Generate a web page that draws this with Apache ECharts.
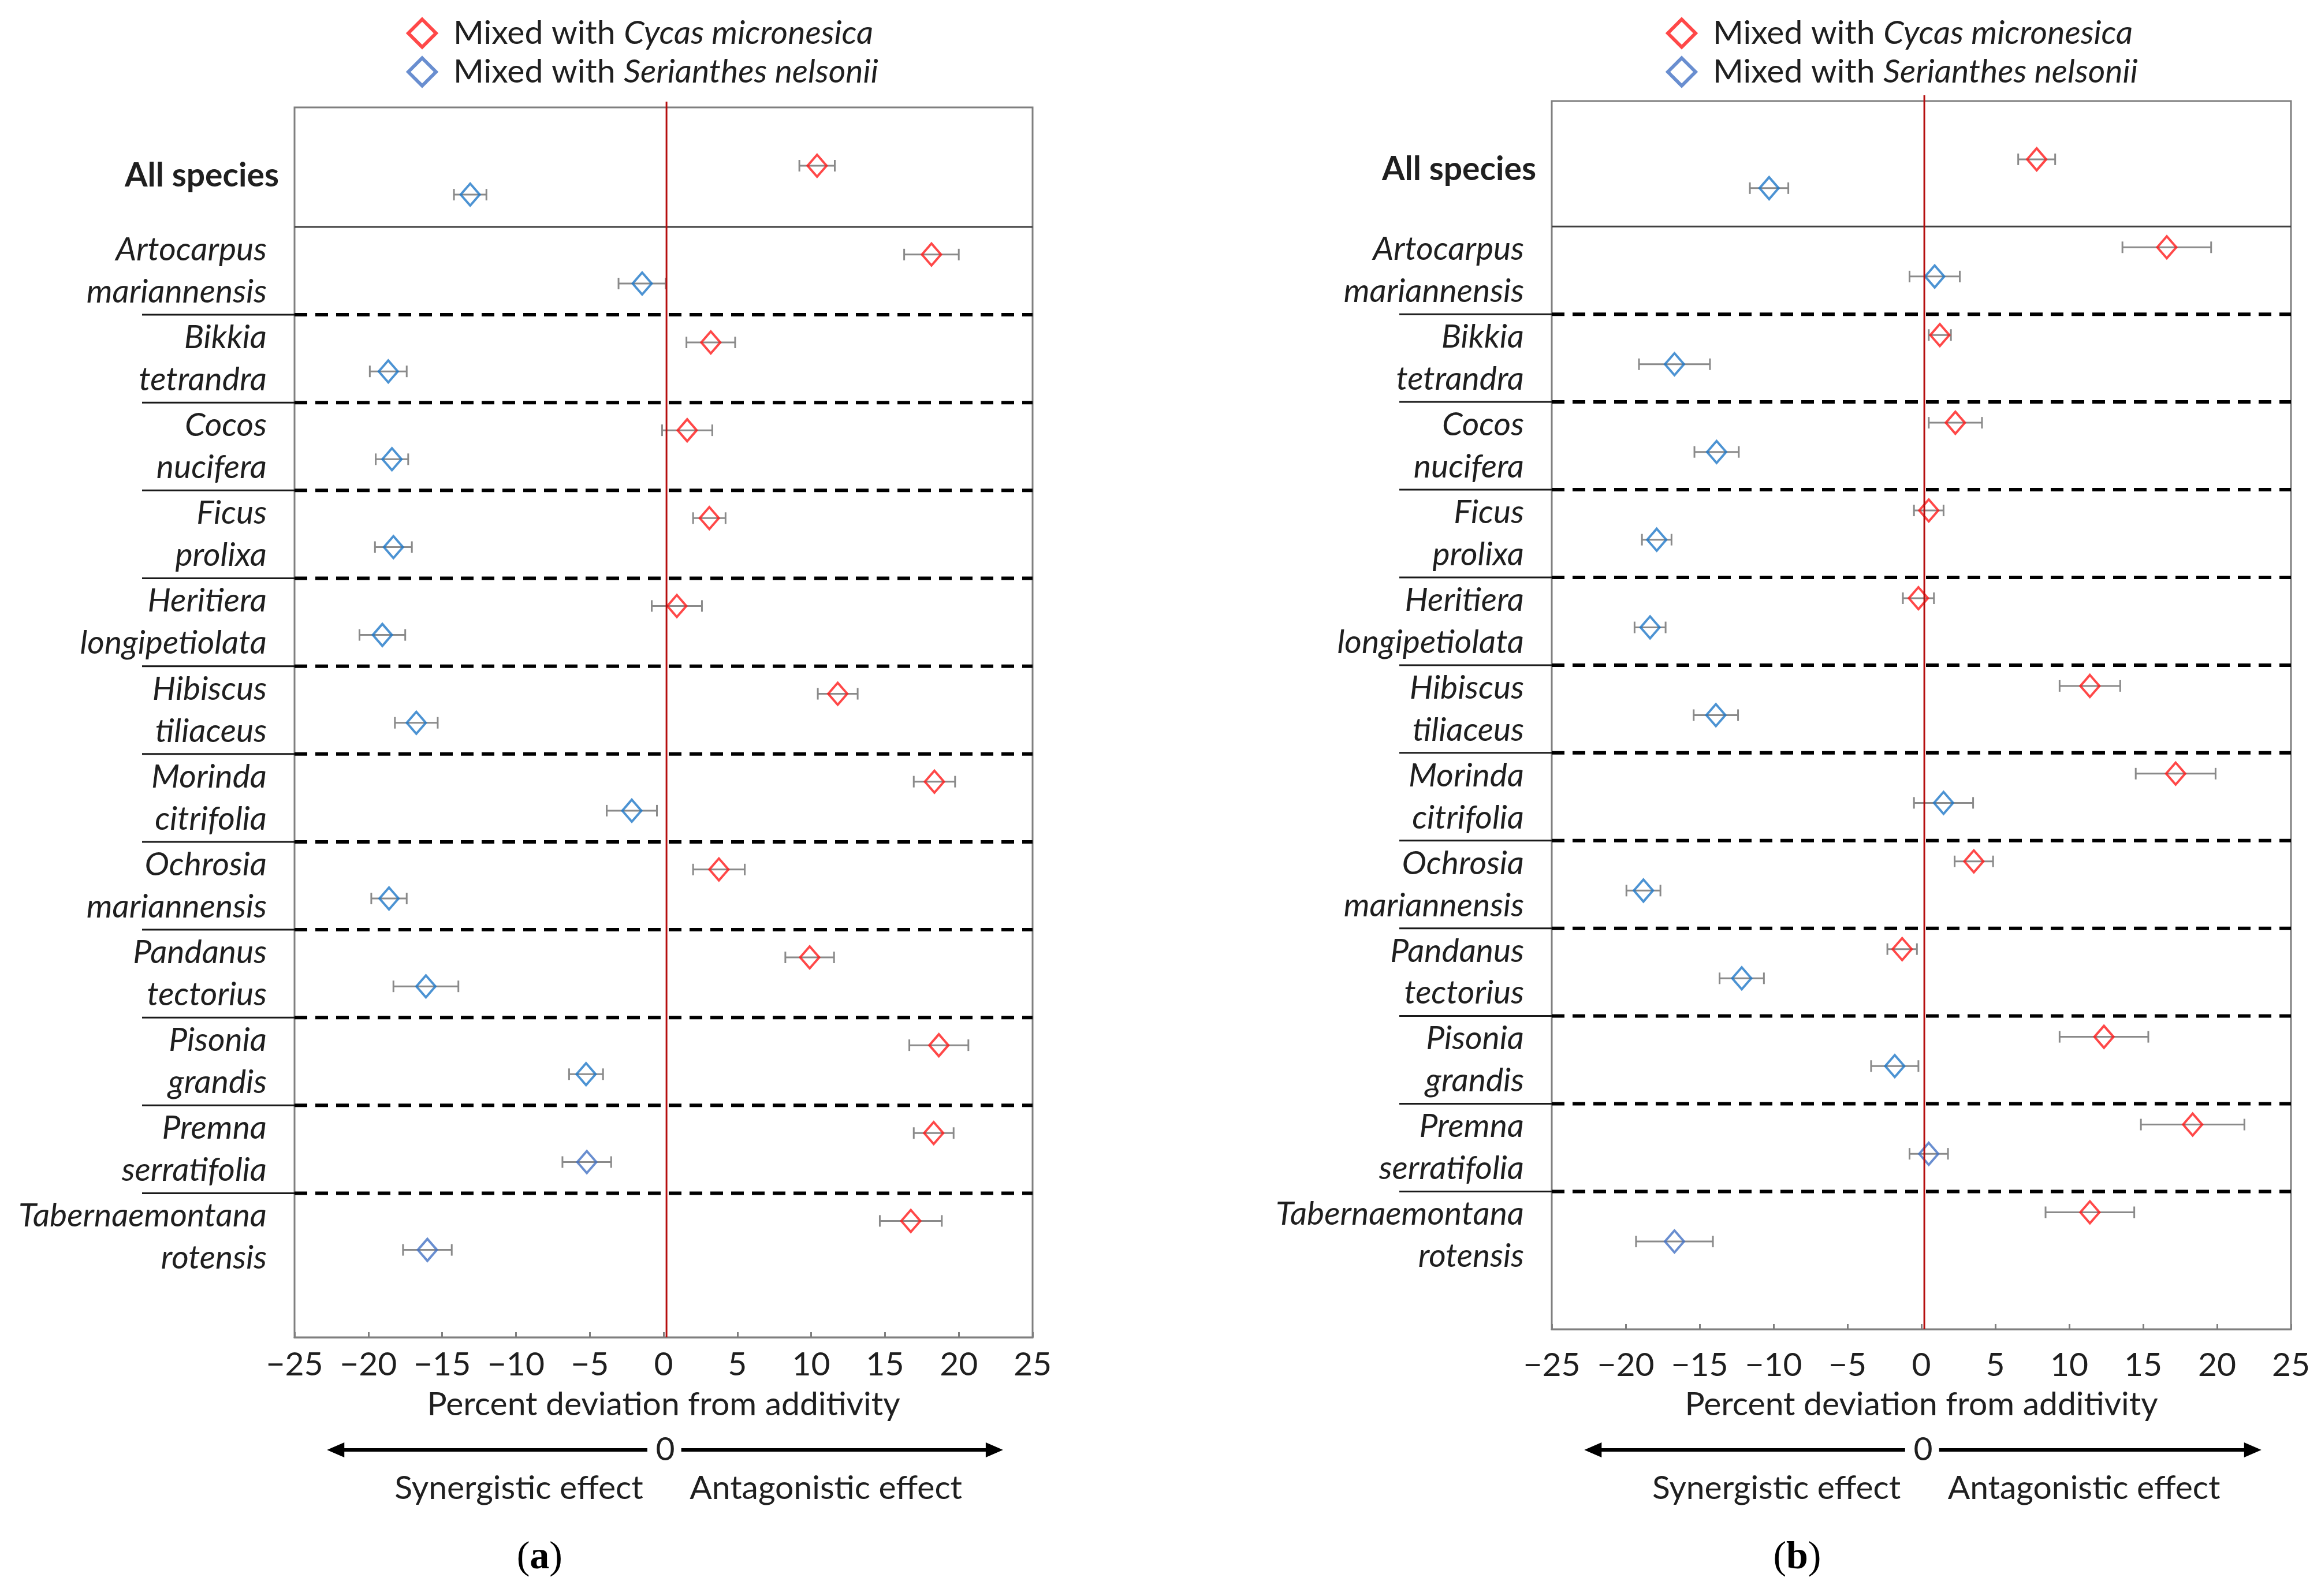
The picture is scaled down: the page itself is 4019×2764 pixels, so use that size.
<!DOCTYPE html>
<html>
<head>
<meta charset="utf-8">
<title>Percent deviation from additivity</title>
<script src="https://cdn.jsdelivr.net/npm/echarts@6/dist/echarts.min.js"></script>
<style>
  html, body { margin: 0; padding: 0; background: #fff; }
  #chart { width: 4019px; height: 2764px; }
</style>
</head>
<body>
<div id="chart"></div>
<script>
// row labels, top to bottom
var species = [
    'All species',
    'Artocarpus\nmariannensis',
    'Bikkia\ntetrandra',
    'Cocos\nnucifera',
    'Ficus\nprolixa',
    'Heritiera\nlongipetiolata',
    'Hibiscus\ntiliaceus',
    'Morinda\ncitrifolia',
    'Ochrosia\nmariannensis',
    'Pandanus\ntectorius',
    'Pisonia\ngrandis',
    'Premna\nserratifolia',
    'Tabernaemontana\nrotensis'
];
var xTicks = [-25, -20, -15, -10, -5, 0, 5, 10, 15, 20, 25];

// (a)
var cycasA    = [10.4, 18.15, 3.2, 1.6, 3.1, 0.9, 11.8, 18.35, 3.75, 9.9, 18.65, 18.3, 16.75];
var cycasAErr = [1.2, 1.85, 1.65, 1.7, 1.1, 1.7, 1.35, 1.4, 1.75, 1.65, 2.0, 1.35, 2.1];
var serA      = [-13.1, -1.45, -18.65, -18.4, -18.3, -19.05, -16.75, -2.15, -18.6, -16.1, -5.25, -5.2, -16.0];
var serAErr   = [1.1, 1.6, 1.25, 1.1, 1.25, 1.55, 1.45, 1.7, 1.2, 2.2, 1.15, 1.65, 1.65];

// (b)
var cycasB    = [7.8, 16.6, 1.25, 2.3, 0.5, -0.2, 11.4, 17.2, 3.55, -1.3, 12.35, 18.35, 11.4];
var cycasBErr = [1.25, 3.0, 0.75, 1.8, 1.0, 1.05, 2.05, 2.7, 1.3, 1.0, 3.0, 3.5, 3.0];
var serB      = [-10.3, 0.9, -16.7, -13.85, -17.9, -18.35, -13.9, 1.5, -18.8, -12.15, -1.8, 0.5, -16.7];
var serBErr   = [1.3, 1.7, 2.4, 1.5, 1.0, 1.05, 1.5, 2.0, 1.15, 1.5, 1.6, 1.3, 2.6];

var NAME_C = 'Mixed with Cycas micronesica';
var NAME_S = 'Mixed with Serianthes nelsonii';

var RED = '#ff1a1a';
var BLUE = '#1f78c8';
var BLUE2 = '#4472c4';
var FONT = 'Lato';
var FS = 57;
var TXT = '#1f1f1f';
var DIAMOND = 'path://M10,0L20,10L10,20L0,10Z';

var panels = [
    { letter: 'a', grid: { left: 510, top: 186, width: 1278, height: 2130 }, header: 1.36,
      redOff: 0.315, blueOff: 0.645, legendLeft: 699, legendTop: 24, labelMargin: 48, nameGap: 117,
      cycas: cycasA, cycasErr: cycasAErr, ser: serA, serErr: serAErr },
    { letter: 'b', grid: { left: 2687, top: 175, width: 1280, height: 2127 }, header: 1.43,
      redOff: 0.237, blueOff: 0.57, legendLeft: 2880, legendTop: 24, labelMargin: 63, nameGap: 131,
      cycas: cycasB, cycasErr: cycasBErr, ser: serB, serErr: serBErr }
];

function rowTop(p, i) {
    return i === 0 ? 0 : p.header + (i - 1);
}
function pointY(p, i, red) {
    if (i === 0) return red ? 0.664 : 0.993;
    return rowTop(p, i) + (red ? p.redOff : p.blueOff);
}

var chart = echarts.init(document.getElementById('chart'));

var grids = [], xAxes = [], yAxes = [], legends = [], series = [];

panels.forEach(function (p, k) {
    grids.push(Object.assign({ show: true, borderColor: '#7f7f7f', borderWidth: 3, backgroundColor: '#fff' }, p.grid));
    xAxes.push({
        type: 'value', gridIndex: k, position: 'bottom', min: -25, max: 25, interval: 5,
        name: 'Percent deviation from additivity', nameLocation: 'middle', nameGap: p.nameGap,
        nameTextStyle: { fontFamily: FONT, fontSize: FS, color: TXT, verticalAlign: 'middle' },
        axisLine: { show: true, onZero: false, lineStyle: { color: '#7f7f7f', width: 3 } },
        axisTick: { show: true, inside: true, length: 9, lineStyle: { color: '#7f7f7f', width: 3 } },
        axisLabel: {
            margin: p.labelMargin, verticalAlign: 'middle', fontFamily: FONT, fontSize: FS, color: TXT,
            formatter: function (v) { return String(v).replace('-', '\u2212'); }
        },
        splitLine: { show: false }
    });
    yAxes.push({ type: 'value', gridIndex: k, min: 0, max: 14, inverse: true, show: false });

    legends.push({
        orient: 'vertical', left: p.legendLeft, top: p.legendTop,
        itemWidth: 98, itemHeight: 48, itemGap: 10, selectedMode: false, symbolKeepAspect: true,
        data: [
            { name: NAME_C, icon: DIAMOND, itemStyle: { color: 'rgba(0,0,0,0)', borderColor: RED, borderWidth: 6 } },
            { name: NAME_S, icon: DIAMOND, itemStyle: { color: 'rgba(0,0,0,0)', borderColor: BLUE2, borderWidth: 6 } }
        ],
        formatter: function (name) { return name.replace(/^(Mixed with )(.*)$/, '$1{i|$2}'); },
        textStyle: {
            fontFamily: FONT, fontSize: FS, color: TXT,
            rich: { i: { fontFamily: FONT, fontSize: FS, fontStyle: 'italic', color: TXT } }
        }
    });

    // error bars
    function errSeries(vals, errs, red) {
        return {
            type: 'custom', xAxisIndex: k, yAxisIndex: k, z: 2, silent: true, clip: false,
            data: vals.map(function (v, i) { return [v, pointY(p, i, red), errs[i]]; }),
            renderItem: function (params, api) {
                var c = api.value(0), y = api.value(1), e = api.value(2);
                var a = api.coord([c - e, y]), b = api.coord([c + e, y]);
                var st = { stroke: '#8a8a8a', lineWidth: 3 };
                return { type: 'group', children: [
                    { type: 'line', shape: { x1: a[0], y1: a[1], x2: b[0], y2: b[1] }, style: st },
                    { type: 'line', shape: { x1: a[0], y1: a[1] - 10, x2: a[0], y2: a[1] + 10 }, style: st },
                    { type: 'line', shape: { x1: b[0], y1: b[1] - 10, x2: b[0], y2: b[1] + 10 }, style: st }
                ] };
            }
        };
    }
    series.push(errSeries(p.cycas, p.cycasErr, true));
    series.push(errSeries(p.ser, p.serErr, false));

    series.push({
        name: NAME_C, type: 'scatter', xAxisIndex: k, yAxisIndex: k, z: 3, silent: true,
        symbol: 'diamond', symbolSize: [33, 38],
        itemStyle: { color: 'rgba(0,0,0,0)', borderColor: RED, borderWidth: 4 },
        data: p.cycas.map(function (v, i) { return [v, pointY(p, i, true)]; })
    });
    series.push({
        name: NAME_S, type: 'scatter', xAxisIndex: k, yAxisIndex: k, z: 3, silent: true,
        symbol: 'diamond', symbolSize: [33, 38],
        itemStyle: { color: 'rgba(0,0,0,0)', borderColor: BLUE, borderWidth: 4 },
        data: p.ser.map(function (v, i) {
            return { value: [v, pointY(p, i, false)], itemStyle: { borderColor: i >= 11 ? BLUE2 : BLUE } };
        })
    });

    // row labels and separators
    series.push({
        type: 'custom', xAxisIndex: k, yAxisIndex: k, z: 1, silent: true, clip: false,
        data: species.map(function (s, i) { return [i]; }),
        renderItem: function (params, api) {
            var i = api.value(0);
            var left = api.coord([-25, 0])[0], right = api.coord([25, 0])[0];
            var kids = [];
            var top = rowTop(p, i);
            if (i === 0) {
                kids.push({ type: 'text', style: { x: left - 27, y: api.coord([0, 0.78])[1], text: species[i],
                    align: 'right', verticalAlign: 'middle', fontFamily: FONT, fontSize: FS, fontWeight: 'bold', fill: TXT } });
            } else {
                var lines = species[i].split('\n');
                kids.push({ type: 'text', style: { x: left - 48, y: api.coord([0, top + 0.26])[1], text: lines[0],
                    align: 'right', verticalAlign: 'middle', fontFamily: FONT, fontSize: FS, fontStyle: 'italic', fill: TXT } });
                kids.push({ type: 'text', style: { x: left - 48, y: api.coord([0, top + 0.74])[1], text: lines[1],
                    align: 'right', verticalAlign: 'middle', fontFamily: FONT, fontSize: FS, fontStyle: 'italic', fill: TXT } });
                var ys = api.coord([0, top])[1];
                if (i === 1) {
                    kids.push({ type: 'line', shape: { x1: left, y1: ys, x2: right, y2: ys }, style: { stroke: '#404040', lineWidth: 3 } });
                } else {
                    kids.push({ type: 'line', shape: { x1: left - 264, y1: ys, x2: left, y2: ys }, style: { stroke: '#1a1a1a', lineWidth: 3 } });
                    kids.push({ type: 'line', shape: { x1: left, y1: ys, x2: right, y2: ys }, style: { stroke: '#000', lineWidth: 6, lineDash: [22, 14] } });
                }
            }
            return { type: 'group', children: kids };
        }
    });

    // zero line, effect arrow and panel letter
    series.push({
        type: 'custom', xAxisIndex: k, yAxisIndex: k, z: 4, silent: true, clip: false,
        data: [[0]],
        renderItem: function (params, api) {
            var z0 = api.coord([0.2, 0]), z1 = api.coord([0.2, 14]);
            var xl = api.coord([-22.8, 0])[0], xr = api.coord([23.0, 0])[0];
            var xa = api.coord([-1.1, 0])[0], xb = api.coord([1.2, 0])[0];
            var ay = 2511;
            var arrowSt = { stroke: '#000', lineWidth: 6 };
            return { type: 'group', children: [
                { type: 'line', shape: { x1: z0[0], y1: z0[1] - 10, x2: z1[0], y2: z1[1] }, style: { stroke: '#b50d0d', lineWidth: 3 } },
                { type: 'line', shape: { x1: xl + 20, y1: ay, x2: xa, y2: ay }, style: arrowSt },
                { type: 'line', shape: { x1: xb, y1: ay, x2: xr - 20, y2: ay }, style: arrowSt },
                { type: 'polygon', shape: { points: [[xl, ay], [xl + 30, ay - 13], [xl + 30, ay + 13]] }, style: { fill: '#000' } },
                { type: 'polygon', shape: { points: [[xr, ay], [xr - 30, ay - 13], [xr - 30, ay + 13]] }, style: { fill: '#000' } },
                { type: 'text', style: { x: api.coord([0.12, 0])[0], y: ay, text: '0', align: 'center', verticalAlign: 'middle',
                    fontFamily: FONT, fontSize: FS, fill: TXT } },
                { type: 'text', style: { x: api.coord([-9.8, 0])[0], y: 2578, text: 'Synergistic effect', align: 'center', verticalAlign: 'middle',
                    fontFamily: FONT, fontSize: FS, fill: TXT } },
                { type: 'text', style: { x: api.coord([11.0, 0])[0], y: 2578, text: 'Antagonistic effect', align: 'center', verticalAlign: 'middle',
                    fontFamily: FONT, fontSize: FS, fill: TXT } },
                { type: 'text', style: { x: api.coord([-8.4, 0])[0], y: 2698, text: '({b|' + p.letter + '})', align: 'center', verticalAlign: 'middle',
                    fontFamily: 'Liberation Serif', fontSize: 68, fill: '#000',
                    rich: { b: { fontFamily: 'Liberation Serif', fontSize: 68, fontWeight: 'bold', fill: '#000' } } } }
            ] };
        }
    });
});

var option = {
    backgroundColor: '#fff',
    animation: false,
    grid: grids,
    xAxis: xAxes,
    yAxis: yAxes,
    legend: legends,
    series: series
};

option && chart.setOption(option);

window.addEventListener('resize', function () {
    chart.resize();
});
</script>
</body>
</html>
